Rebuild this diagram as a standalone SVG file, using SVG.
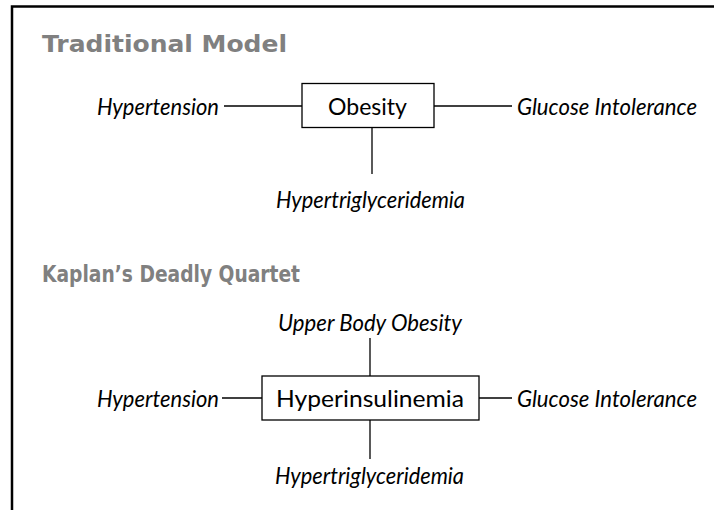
<svg xmlns="http://www.w3.org/2000/svg" width="714" height="510" viewBox="0 0 714 510">
<style>
.title{font-family:"DejaVu Sans",sans-serif;font-weight:bold;font-size:23px;fill:#808080}
.lbl{font-family:Lato,"Open Sans",sans-serif;font-style:italic;font-size:23px;fill:#000}
.box{fill:#fff;stroke:#000;stroke-width:1.3}
.btxt{font-family:Lato,"Open Sans",sans-serif;font-size:24px;fill:#000}
.ln{stroke:#000;stroke-width:1.3;fill:none}
</style>
<rect x="0" y="0" width="714" height="510" fill="#fff"/>
<path d="M12 520 V6.5 H720" fill="none" stroke="#000" stroke-width="2.5"/>
<text class="title" x="42" y="52" textLength="245" lengthAdjust="spacingAndGlyphs">Traditional Model</text>
<text class="title" x="42" y="282" textLength="258" lengthAdjust="spacingAndGlyphs">Kaplan’s Deadly Quartet</text>
<g id="connectors">
<line class="ln" x1="224" y1="106" x2="302" y2="106"/>
<line class="ln" x1="434" y1="106" x2="512" y2="106"/>
<line class="ln" x1="372" y1="128" x2="372" y2="174"/>
<line class="ln" x1="370" y1="338" x2="370" y2="376"/>
<line class="ln" x1="222" y1="398" x2="262" y2="398"/>
<line class="ln" x1="479" y1="398" x2="512" y2="398"/>
<line class="ln" x1="370" y1="420" x2="370" y2="459"/>
</g>
<g id="obesity">
<rect class="box" x="302" y="83.5" width="132" height="44"/>
<text class="btxt" x="328" y="115" textLength="79" lengthAdjust="spacingAndGlyphs">Obesity</text>
</g>
<g id="hypertension1"><text class="lbl" x="97" y="115" textLength="122" lengthAdjust="spacingAndGlyphs">Hypertension</text></g>
<g id="glucose1"><text class="lbl" x="517" y="115" textLength="180" lengthAdjust="spacingAndGlyphs">Glucose Intolerance</text></g>
<g id="hypertrig1"><text class="lbl" x="276" y="208" textLength="189" lengthAdjust="spacingAndGlyphs">Hypertriglyceridemia</text></g>
<g id="hyperinsulinemia">
<rect class="box" x="262" y="376" width="217" height="44"/>
<text class="btxt" x="276" y="407" textLength="188" lengthAdjust="spacingAndGlyphs">Hyperinsulinemia</text>
</g>
<g id="upperbody"><text class="lbl" x="278" y="331" textLength="184" lengthAdjust="spacingAndGlyphs">Upper Body Obesity</text></g>
<g id="hypertension2"><text class="lbl" x="97" y="407" textLength="122" lengthAdjust="spacingAndGlyphs">Hypertension</text></g>
<g id="glucose2"><text class="lbl" x="517" y="407" textLength="180" lengthAdjust="spacingAndGlyphs">Glucose Intolerance</text></g>
<g id="hypertrig2"><text class="lbl" x="275" y="484" textLength="189" lengthAdjust="spacingAndGlyphs">Hypertriglyceridemia</text></g>
</svg>
